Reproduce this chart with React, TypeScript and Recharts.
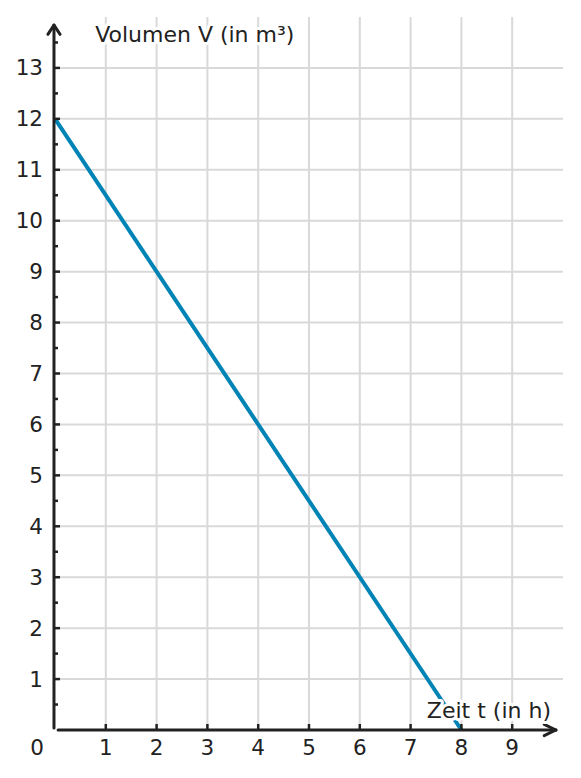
import { LineChart, Line, XAxis, YAxis, CartesianGrid, ReferenceLine, ReferenceDot } from 'recharts';

// data
const times = [0, 8];
const volumes = [12, 0];
const xTicks = [0, 1, 2, 3, 4, 5, 6, 7, 8, 9];
const yTicks = [1, 2, 3, 4, 5, 6, 7, 8, 9, 10, 11, 12, 13];
const yMinorTicks = [0.5, 1.5, 2.5, 3.5, 4.5, 5.5, 6.5, 7.5, 8.5, 9.5, 10.5, 11.5, 12.5, 13.5];
const gridX = [1, 2, 3, 4, 5, 6, 7, 8, 9];
const yLabel = 'Volumen V (in m³)';
const xLabel = 'Zeit t (in h)';

const data = times.map((t, i) => ({ t, v: volumes[i] }));
const allYTicks = [...yTicks, ...yMinorTicks].sort((a, b) => a - b);

const FONT = "'DejaVu Sans', sans-serif";
const INK = '#222';
const FS = 21.5;

function YTick(props: any) {
    const { x, y, payload } = props;
    const major = Number.isInteger(payload.value);
    return (
        <g>
            <line x1={x - 1} x2={x + (major ? 5 : 3)} y1={y} y2={y} stroke={INK} strokeWidth={2.5} />
            {major && (
                <text x={x - 12} y={y} textAnchor="end" dominantBaseline="central" fontFamily={FONT} fontSize={FS} fill={INK}>
                    {payload.value}
                </text>
            )}
        </g>
    );
}

function XTick(props: any) {
    const { x, y, payload } = props;
    if (payload.value === 0) {
        return (
            <text x={x - 18} y={y + 17} textAnchor="middle" dominantBaseline="central" fontFamily={FONT} fontSize={FS} fill={INK}>
                0
            </text>
        );
    }
    return (
        <g>
            <line x1={x} x2={x} y1={y} y2={y - 6} stroke={INK} strokeWidth={2.5} />
            <text x={x} y={y + 17} textAnchor="middle" dominantBaseline="central" fontFamily={FONT} fontSize={FS} fill={INK}>
                {payload.value}
            </text>
        </g>
    );
}

// axis title with a white halo round the glyphs
function haloLabel(text: string) {
    return (props: any) => (
        <text
            x={props.cx}
            y={props.cy}
            dominantBaseline="central"
            fontFamily={FONT}
            fontSize={22}
            fill={INK}
            stroke="#fff"
            strokeWidth={6}
            strokeLinejoin="round"
            paintOrder="stroke"
        >
            {text}
        </text>
    );
}

const axisStyle = { stroke: INK, strokeWidth: 3, strokeLinecap: 'round' as const };

export default function App() {
    return (
        <div style={{ position: 'absolute', left: 0, top: 0, background: '#fff' }}>
            <LineChart width={581} height={778} data={data} margin={{ top: 17, right: 18, bottom: 47, left: 54 }}>
                <CartesianGrid stroke="#d9d9d9" strokeWidth={2} horizontalValues={yTicks} verticalValues={gridX} />
                <XAxis
                    dataKey="t"
                    type="number"
                    domain={[0, 10]}
                    ticks={xTicks}
                    height={1}
                    axisLine={false}
                    tickLine={false}
                    tickSize={0}
                    tickMargin={0}
                    tick={(p: any) => <XTick {...p} />}
                    interval={0}
                />
                <YAxis
                    type="number"
                    domain={[0, 14]}
                    ticks={allYTicks}
                    width={1}
                    axisLine={false}
                    tickLine={false}
                    tickSize={0}
                    tickMargin={0}
                    tick={(p: any) => <YTick {...p} />}
                    interval={0}
                />
                <Line type="linear" dataKey="v" stroke="#0083b5" strokeWidth={4} dot={false} isAnimationActive={false} />

                {/* axes with arrows */}
                <ReferenceLine segment={[{ x: 0.06, y: 0 }, { x: 9.86, y: 0 }]} ifOverflow="visible" {...axisStyle} />
                <ReferenceLine segment={[{ x: 9.63, y: 0.11 }, { x: 9.86, y: 0 }]} ifOverflow="visible" {...axisStyle} />
                <ReferenceLine segment={[{ x: 9.63, y: -0.11 }, { x: 9.86, y: 0 }]} ifOverflow="visible" {...axisStyle} />
                <ReferenceLine segment={[{ x: -0.02, y: 0.04 }, { x: -0.02, y: 13.84 }]} ifOverflow="visible" {...axisStyle} />
                <ReferenceLine segment={[{ x: -0.14, y: 13.66 }, { x: -0.02, y: 13.84 }]} ifOverflow="visible" {...axisStyle} />
                <ReferenceLine segment={[{ x: 0.1, y: 13.66 }, { x: -0.02, y: 13.84 }]} ifOverflow="visible" {...axisStyle} />

                <ReferenceDot x={0.79} y={13.65} ifOverflow="visible" shape={haloLabel(yLabel)} zIndex={1500} />
                <ReferenceDot x={7.32} y={0.39} ifOverflow="visible" shape={haloLabel(xLabel)} zIndex={1500} />
            </LineChart>
        </div>
    );
}
